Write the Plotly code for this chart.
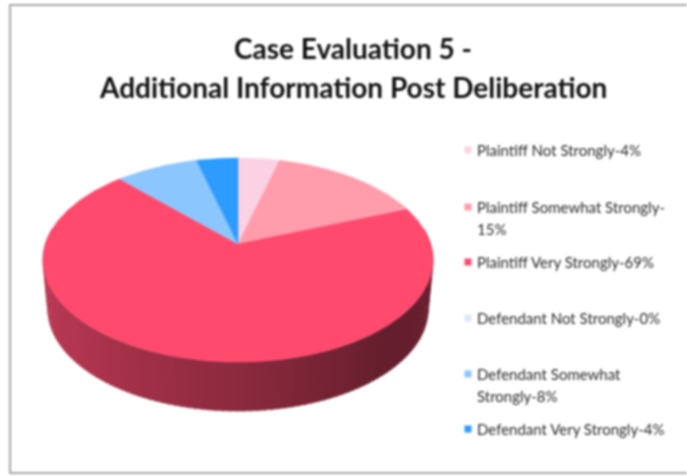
import numpy as np
import plotly.graph_objects as go

title_lines = ["Case Evaluation 5 -", "Additional Information Post Deliberation"]
categories = ["Plaintiff Not Strongly", "Plaintiff Somewhat Strongly", "Plaintiff Very Strongly",
              "Defendant Not Strongly", "Defendant Somewhat Strongly", "Defendant Very Strongly"]
values = [4, 15, 69, 0, 8, 4]
legend_lines = [["Plaintiff Not Strongly-4%"],
                ["Plaintiff Somewhat Strongly-", "15%"],
                ["Plaintiff Very Strongly-69%"],
                ["Defendant Not Strongly-0%"],
                ["Defendant Somewhat", "Strongly-8%"],
                ["Defendant Very Strongly-4%"]]
colors = ["#FAD2E4", "#FF9DAC", "#FF4A6E", "#DCE9FA", "#8CC6FF", "#2E9BFF"]
legend_y = [150, 207, 262, 318, 374, 429]
wall_stops = [(0.0, (192, 62, 90)), (0.25, (178, 54, 80)), (0.5, (140, 42, 62)),
              (0.72, (100, 30, 45)), (1.0, (112, 34, 50))]

CX, CY, A, B, K = 238.0, 244.0, 192.6, 99.5, 0.157
DEPTH, SHRINK = 49.0, 0.975


def project(theta):
    u, v = np.sin(theta), np.cos(theta)
    d = 1 + K * v
    return CX + A * u / d, CY - B * v / d


def project_bottom(theta):
    x, y = project(theta)
    return CX + (x - CX) * SHRINK, y + DEPTH


def wall_color(t):
    xs = [s[0] for s in wall_stops]
    rgb = [np.interp(t, xs, [s[1][i] for s in wall_stops]) for i in range(3)]
    return "rgb(%d,%d,%d)" % tuple(rgb)


fig = go.Figure()

# chart frame: its right side falls outside the crop
fig.add_trace(go.Scatter(x=[687, 10, 10, 687], y=[5, 5, 473, 473], mode="lines",
                         line=dict(color="#A8A8A8", width=2), hoverinfo="skip"))

# side wall, drawn as thin strips over the front half of the rim
edges = np.linspace(np.pi / 2 - 0.16, 3 * np.pi / 2 + 0.16, 111)
for a0, a1 in zip(edges[:-1], edges[1:]):
    arc = np.linspace(a0, a1 + 0.01, 4)
    xt, yt = project(arc)
    xb, yb = project_bottom(arc[::-1])
    t = 1 - ((a0 + a1) / 2 - edges[0]) / (edges[-1] - edges[0])
    c = wall_color(t)
    fig.add_trace(go.Scatter(x=np.r_[xt, xb], y=np.r_[yt, yb], mode="lines", fill="toself",
                             fillcolor=c, line=dict(color=c, width=0.5), hoverinfo="skip"))

# top face slices
cum = np.r_[0, np.cumsum(values)] / np.sum(values) * 2 * np.pi
for i, name in enumerate(categories):
    if values[i] == 0:
        continue
    arc = np.linspace(cum[i], cum[i + 1], max(int(values[i]) * 4, 8))
    x, y = project(arc)
    fig.add_trace(go.Scatter(x=np.r_[CX, x, CX], y=np.r_[CY, y, CY], mode="lines", fill="toself",
                             fillcolor=colors[i], line=dict(color=colors[i], width=0.5),
                             name=name, text=f"{values[i]}%", hoverinfo="name+text"))

# legend swatches
fig.add_trace(go.Scatter(x=[468] * 6, y=legend_y, mode="markers",
                         marker=dict(symbol="square", size=7, color=colors), hoverinfo="skip"))

ann = []
for line, y in zip(title_lines, [48, 87]):
    ann.append(dict(x=353, y=y, text=f"<b>{line}</b>", showarrow=False, xanchor="center", yanchor="middle",
                    font=dict(family="Lato", size=28, color="#111111")))
for lines, y in zip(legend_lines, legend_y):
    for j, line in enumerate(lines):
        ann.append(dict(x=475, y=y + j * 22, text=line, showarrow=False, xanchor="left", yanchor="middle",
                        font=dict(family="Lato", size=15, color="#2A2A2A")))

fig.update_layout(width=687, height=476, margin=dict(l=0, r=0, t=0, b=0), showlegend=False,
                  paper_bgcolor="white", plot_bgcolor="white", annotations=ann,
                  xaxis=dict(range=[0, 687], visible=False, fixedrange=True),
                  yaxis=dict(range=[476, 0], visible=False, fixedrange=True))

fig.write_html("out.html", config=dict(displayModeBar=False),
               post_script="document.body.style.margin='0';"
                           "document.querySelector('.plotly-graph-div').style.filter='blur(1px)';")
